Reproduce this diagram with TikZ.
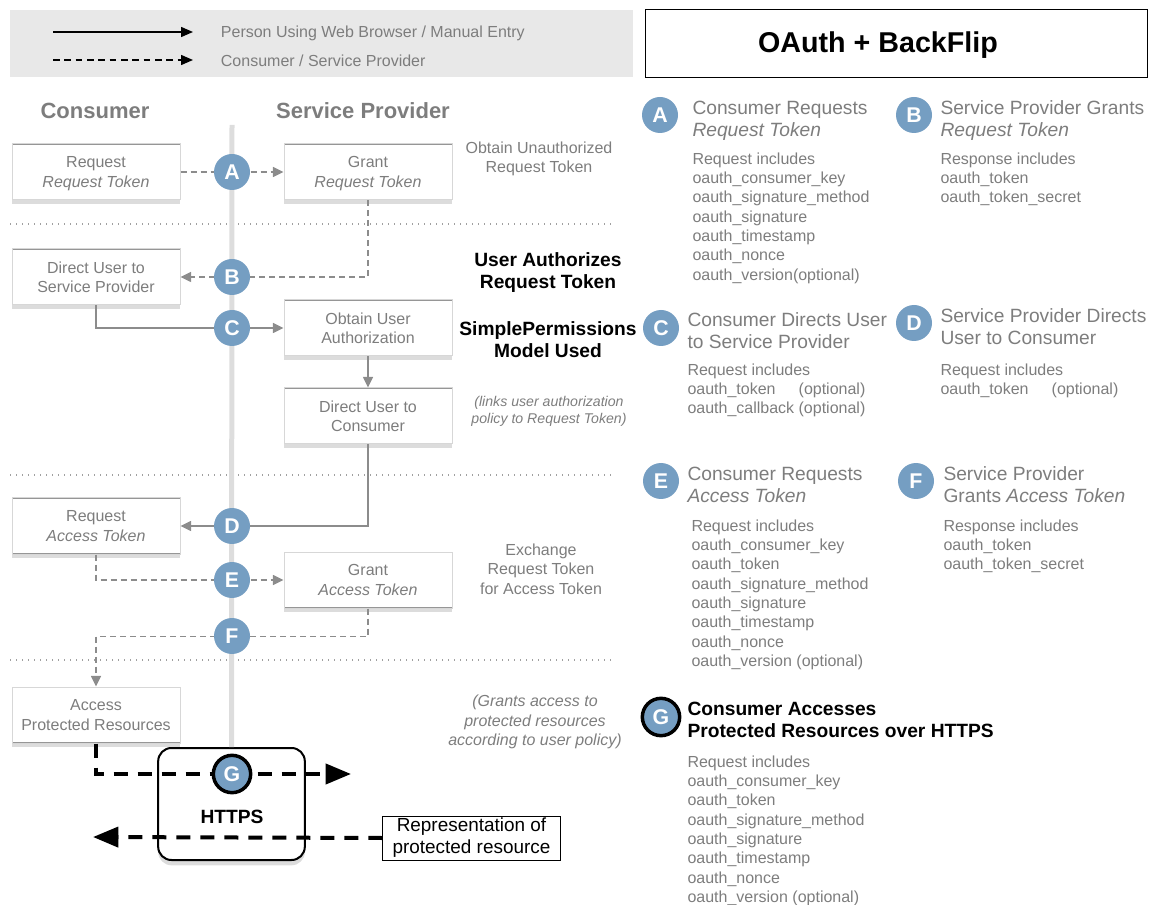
\documentclass[tikz,border=0pt]{standalone}
\usepackage{fontspec}
\setmainfont{Liberation Sans}
\usetikzlibrary{arrows.meta,shadows}

\definecolor{stepblue}{RGB}{117,158,194}
\definecolor{softgray}{RGB}{125,125,125}
\definecolor{lineg}{RGB}{140,140,140}
\definecolor{boxline}{RGB}{150,150,150}
\definecolor{boxside}{RGB}{215,215,215}
\definecolor{sepg}{RGB}{160,160,160}
\definecolor{legendbg}{RGB}{232,232,232}
\definecolor{tlgray}{RGB}{221,221,221}

\newcommand{\bodysize}{\fontsize{12}{14.5}\selectfont}
\newcommand{\ttlsize}{\fontsize{14.4}{16.5}\selectfont}

\tikzset{
	stepbox/.style={draw=boxside, fill=white, minimum width=126pt, minimum height=42pt, inner sep=2pt,
		align=center, text=softgray, font=\bodysize, text depth=0pt,
		path picture={\draw[boxline, line width=1.6pt]
			(path picture bounding box.north west) -- (path picture bounding box.north east)
			(path picture bounding box.south west) -- (path picture bounding box.south east);},
		drop shadow={shadow xshift=0pt, shadow yshift=-3pt, opacity=.3, fill=black!45}},
	stepdot/.style={circle, fill=stepblue, text=white, inner sep=0pt, minimum size=27pt,
		font=\fontsize{16}{16}\selectfont\bfseries},
	gring/.style={draw=black, line width=2.6pt, minimum size=28pt},
	msgline/.style={draw=lineg, line width=1.1pt, dash pattern=on 4.5pt off 3pt, -{Triangle[length=8pt,width=7.5pt]}},
	userline/.style={draw=lineg, line width=1.1pt, -{Triangle[length=8pt,width=7.5pt]}},
	httpsline/.style={draw=black, line width=3pt, dash pattern=on 10.5pt off 7.5pt, -{Triangle[length=19pt,width=15pt]}},
	legendline/.style={draw=black, line width=1.1pt, -{Triangle[length=9pt,width=7.5pt]}},
	sepline/.style={draw=sepg, line width=1pt, dash pattern=on 1pt off 3.5pt},
	timeline/.style={draw=tlgray, line width=3.75pt},
	headtext/.style={text=softgray, font=\fontsize{16.5}{18}\selectfont\bfseries},
	notetext/.style={text=softgray, font=\bodysize, align=center},
	boldnote/.style={font=\ttlsize\bfseries, align=center},
	infotitle/.style={anchor=north west, inner sep=0pt, align=left, text=softgray, font=\ttlsize},
	infobody/.style={anchor=north west, inner sep=0pt, align=left, text=softgray, font=\bodysize},
}
\tikzset{every picture/.style={line width=0.75pt}}

\begin{document}
\begin{tikzpicture}[x=0.75pt,y=0.75pt,yscale=-1,xscale=1]
	\useasboundingbox (0,0) rectangle (1150,905);

	%Shape: Legend Rectangle
	\fill[legendbg] (10,10) rectangle (633,77);
	\coordinate (lgsa) at (53,32);
	\coordinate (lgsb) at (193,32);
	\coordinate (lgda) at (53,60);
	\coordinate (lgdb) at (193,60);
	\draw[legendline] (lgsa) -- (lgsb);
	\draw[legendline, dash pattern=on 5pt off 3.5pt] (lgda) -- (lgdb);
	% Text Node
	\node[text=softgray, font=\bodysize, anchor=west] (lgsolid) at (216,33) {Person Using Web Browser / Manual Entry};
	% Text Node
	\node[text=softgray, font=\bodysize, anchor=west] (lgdash) at (216,61) {Consumer / Service Provider};

	%Shape: Title Rectangle
	\node[draw=black, minimum width=376.5pt, minimum height=51pt, inner sep=0pt] (titlebox) at (896,44) {};
	% Text Node
	\node[font=\fontsize{21.5}{24}\selectfont\bfseries] (oauthttl) at (878,45) {OAuth + BackFlip};

	% Text Node
	\node[headtext] (hcons) at (95,111) {Consumer};
	% Text Node
	\node[headtext] (hsp) at (363,111) {Service Provider};

	%Straight Lines (separators)
	\draw[sepline] (10,224) -- (613,224);
	\draw[sepline] (10,475) -- (613,475);
	\draw[sepline] (10,660) -- (613,660);

	%Shape: Step Boxes
	\node[stepbox] (reqrt) at (96,172) {Request\\\textit{Request Token}};
	\node[stepbox] (grantrt) at (368,172) {Grant\\\textit{Request Token}};
	\node[stepbox] (dirsp) at (96,277) {Direct User to\\Service Provider};
	\node[stepbox] (obtauth) at (368,328) {Obtain User\\Authorization};
	\node[stepbox] (dircons) at (368,416) {Direct User to\\Consumer};
	\node[stepbox] (reqat) at (96,526) {Request\\\textit{Access Token}};
	\node[stepbox] (grantat) at (368,580) {Grant\\\textit{Access Token}};
	\node[stepbox] (accpr) at (96,715) {Access\\Protected Resources};

	%Shape: HTTPS Box
	\node[draw=black, line width=1.5pt, fill=white, rounded corners=10pt, minimum width=110pt, minimum height=84pt,
		drop shadow={shadow xshift=0pt, shadow yshift=-4pt, opacity=.3, fill=black!45}] (https) at (231.5,804) {};
	% Text Node
	\node[font=\ttlsize\bfseries] (httpslbl) at (232,817) {HTTPS};

	%Straight Lines (timeline)
	\coordinate (tltop) at (232,125);
	\draw[timeline] (tltop) -- (https.north);

	%Shape: Representation Box
	\node[draw=black, fill=white, minimum width=133pt, minimum height=33pt, inner sep=1pt, align=center,
		font=\fontsize{14.2}{16.5}\selectfont] (repr) at (471.5,838) {Representation of\\protected resource};

	%Connectors
	\draw[msgline] (reqrt.east) -- (grantrt.west);
	\draw[msgline] (grantrt.south) |- (dirsp.east);
	\draw[userline] (dirsp.south) |- (obtauth.west);
	\draw[userline] (obtauth.south) -- (dircons.north);
	\draw[userline] (dircons.south) |- (reqat.east);
	\draw[msgline] (reqat.south) |- (grantat.west);
	\draw[msgline] (grantat.south) -- ++(0,28) -| (accpr.north);
	\coordinate (gout) at (351,774);
	\coordinate (gback) at (93,837);
	\draw[httpsline] (accpr.south) |- (gout);
	\draw[httpsline] (repr.west) -- (gback);

	%Shape: Step Circles
	\node[stepdot] (stA) at (232,172) {A};
	\node[stepdot] (stB) at (232,277) {B};
	\node[stepdot] (stC) at (232,328) {C};
	\node[stepdot] (stD) at (232,526) {D};
	\node[stepdot] (stE) at (232,580) {E};
	\node[stepdot] (stF) at (232,636) {F};
	\node[stepdot, gring] (stG) at (232,774) {G};

	% Text Node
	\node[notetext] (nobtain) at (539,159) {Obtain Unauthorized\\Request Token};
	% Text Node
	\node[boldnote] (nuser) at (548,273) {User Authorizes\\Request Token};
	% Text Node
	\node[boldnote] (nsimple) at (548,340) {SimplePermissions\\Model Used};
	% Text Node
	\node[text=softgray, font=\fontsize{10.6}{12.75}\selectfont\itshape, align=center] (nlinks) at (549,411) {(links user authorization\\policy to Request Token)};
	% Text Node
	\node[notetext] (nexch) at (541,569) {Exchange\\Request Token\\for Access Token};
	% Text Node
	\node[notetext, font=\bodysize\itshape] (ngrants) at (535,722) {(Grants access to\\protected resources\\according to user policy)};

	%Shape: Info Circles and Text
	\node[stepdot] (infA) at (660,115) {A};
	\node[infotitle] (ttlA) at (692,100.5) {Consumer Requests\\\textit{Request Token}};
	\node[infobody] (bodyA) at (692,152) {Request includes\\oauth\_consumer\_key\\oauth\_signature\_method\\oauth\_signature\\oauth\_timestamp\\oauth\_nonce\\oauth\_version(optional)};

	\node[stepdot] (infB) at (914,115) {B};
	\node[infotitle] (ttlB) at (940,100.5) {Service Provider Grants\\\textit{Request Token}};
	\node[infobody] (bodyB) at (940,152) {Response includes\\oauth\_token\\oauth\_token\_secret};

	\node[stepdot] (infC) at (661,328) {C};
	\node[infotitle] (ttlC) at (687,312.5) {Consumer Directs User\\to Service Provider};
	\node[infobody] (bodyC) at (687,363) {Request includes\\\rlap{oauth\_token}\hphantom{oauth\_callback} (optional)\\oauth\_callback (optional)};

	\node[stepdot] (infD) at (914,323) {D};
	\node[infotitle] (ttlD) at (940,308.5) {Service Provider Directs\\User to Consumer};
	\node[infobody] (bodyD) at (940,363) {Request includes\\\rlap{oauth\_token}\hphantom{oauth\_callback} (optional)};

	\node[stepdot] (infE) at (661,481) {E};
	\node[infotitle] (ttlE) at (687,466.5) {Consumer Requests\\\textit{Access Token}};
	\node[infobody] (bodyE) at (691,519) {Request includes\\oauth\_consumer\_key\\oauth\_token\\oauth\_signature\_method\\oauth\_signature\\oauth\_timestamp\\oauth\_nonce\\oauth\_version (optional)};

	\node[stepdot] (infF) at (916,481) {F};
	\node[infotitle] (ttlF) at (943,466.5) {Service Provider\\Grants \textit{Access Token}};
	\node[infobody] (bodyF) at (943,519) {Response includes\\oauth\_token\\oauth\_token\_secret};

	\node[stepdot, gring] (infG) at (661,717) {G};
	\node[infotitle, text=black, font=\ttlsize\bfseries] (ttlG) at (687,701.5) {Consumer Accesses\\Protected Resources over HTTPS};
	\node[infobody] (bodyG) at (687,755) {Request includes\\oauth\_consumer\_key\\oauth\_token\\oauth\_signature\_method\\oauth\_signature\\oauth\_timestamp\\oauth\_nonce\\oauth\_version (optional)};

\end{tikzpicture}
\end{document}
